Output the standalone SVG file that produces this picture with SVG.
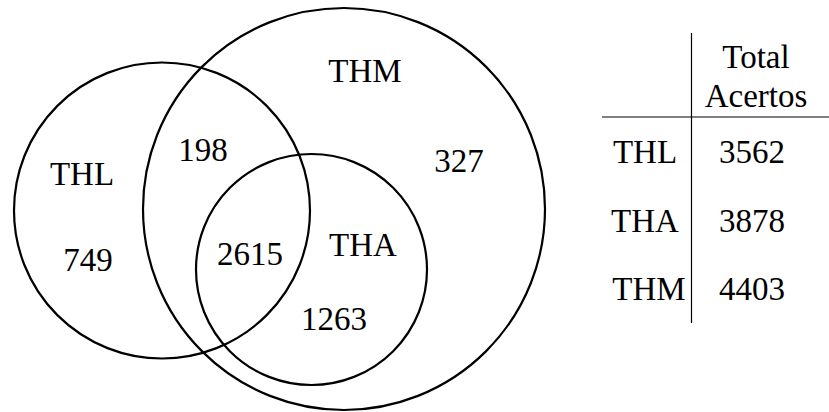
<svg xmlns="http://www.w3.org/2000/svg" width="829" height="412" viewBox="0 0 829 412">
<style>
.c{fill:none;stroke:#000;stroke-width:2.2}
.t{font-family:"Liberation Serif","DejaVu Serif",serif;font-size:33px;fill:#000;text-anchor:middle}
.l{stroke:#000;stroke-width:1.2}
</style>
<rect width="829" height="412" fill="#fff"/>
<g id="THL"><circle class="c" cx="162" cy="210.5" r="148"/><text class="t" x="82" y="185">THL</text><text class="t" x="88" y="271">749</text></g>
<g id="THM"><circle class="c" cx="344" cy="209" r="201"/><text class="t" x="365" y="82">THM</text><text class="t" x="459" y="172">327</text></g>
<g id="THA"><circle class="c" cx="311.5" cy="269.5" r="115.5"/><text class="t" x="363" y="256">THA</text><text class="t" x="334" y="330">1263</text></g>
<g id="intersections"><text class="t" x="203" y="161">198</text><text class="t" x="250" y="265">2615</text></g>
<g id="table">
<line class="l" x1="691.5" y1="33" x2="691.5" y2="323"/>
<line class="l" x1="602" y1="117" x2="829" y2="117"/>
<text class="t" x="756" y="68">Total</text>
<text class="t" x="756" y="107">Acertos</text>
<text class="t" x="645" y="163">THL</text><text class="t" x="752" y="163">3562</text>
<text class="t" x="645" y="232">THA</text><text class="t" x="752" y="232">3878</text>
<text class="t" x="649" y="300">THM</text><text class="t" x="752" y="300">4403</text>
</g>
</svg>
